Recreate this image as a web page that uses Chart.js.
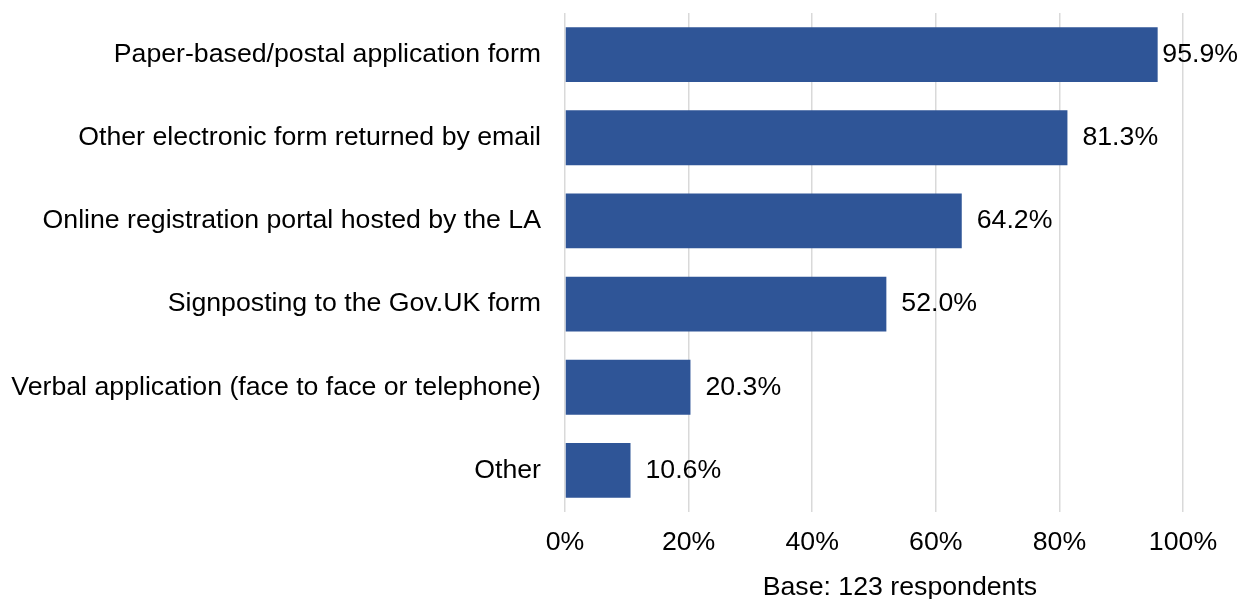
<!DOCTYPE html>
<html>
<head>
<meta charset="utf-8">
<script src="https://cdn.jsdelivr.net/npm/chart.js@4"></script>
<style>
  html, body { margin: 0; padding: 0; background: #fff; }
  #wrap { width: 1240px; height: 599px; position: relative; }
</style>
</head>
<body>
<div id="wrap"><canvas id="methodsChart"></canvas></div>
<script>
const categories = [
    'Paper-based/postal application form',
    'Other electronic form returned by email',
    'Online registration portal hosted by the LA',
    'Signposting to the Gov.UK form',
    'Verbal application (face to face or telephone)',
    'Other'
];
const shares = [95.9, 81.3, 64.2, 52.0, 20.3, 10.6];
const xTicks = [0, 20, 40, 60, 80, 100];
const baseNote = 'Base: 123 respondents';

const FONT = '"Liberation Sans", Arial, sans-serif';
const SIZE = 26.7;
const BAR = '#2f5597';

// value labels just past the end of each bar, kept inside the canvas
const valueLabels = {
    id: 'valueLabels',
    afterDatasetsDraw(chart) {
        const ctx = chart.ctx;
        const meta = chart.getDatasetMeta(0);
        ctx.save();
        ctx.font = SIZE + 'px ' + FONT;
        ctx.fillStyle = '#000';
        ctx.textBaseline = 'middle';
        meta.data.forEach((bar, i) => {
            const txt = shares[i].toFixed(1) + '%';
            const w = ctx.measureText(txt).width;
            const x = Math.min(bar.x + 15, 1238 - w);
            ctx.fillText(txt, x, bar.y);
        });
        ctx.restore();
    }
};

const ctx = document.getElementById('methodsChart').getContext('2d');
new Chart(ctx, {
    type: 'bar',
    data: {
        labels: categories,
        datasets: [{
            data: shares,
            backgroundColor: BAR,
            borderWidth: 0,
            categoryPercentage: 1,
            barPercentage: 0.66
        }]
    },
    plugins: [valueLabels],
    options: {
        indexAxis: 'y',
        responsive: true,
        maintainAspectRatio: false,
        animation: false,
        layout: { padding: { top: 13, right: 57, bottom: 0, left: 0 } },
        plugins: {
            legend: { display: false },
            tooltip: { enabled: false }
        },
        scales: {
            x: {
                min: 0,
                max: 100,
                afterBuildTicks: scale => { scale.ticks = xTicks.map(v => ({ value: v })); },
                afterFit: scale => { scale.height = 87; },
                grid: { color: '#d9d9d9', lineWidth: 1.5, drawTicks: false },
                border: { display: false },
                ticks: {
                    color: '#000',
                    font: { family: FONT, size: SIZE },
                    padding: 15,
                    callback: v => v + '%'
                },
                title: {
                    display: true,
                    // leading spaces nudge the note a little right of the axis centre
                    text: '       ' + baseNote,
                    color: '#000',
                    font: { family: FONT, size: SIZE, lineHeight: 0.82 },
                    padding: { top: 0, bottom: 0 },
                    align: 'center'
                }
            },
            y: {
                afterFit: scale => { scale.width = 565; },
                grid: { display: false, drawTicks: true, tickLength: 24 },
                border: { display: false },
                ticks: {
                    color: '#000',
                    font: { family: FONT, size: SIZE, lineHeight: 0.9 },
                    padding: 0
                }
            }
        }
    }
});
</script>
</body>
</html>
